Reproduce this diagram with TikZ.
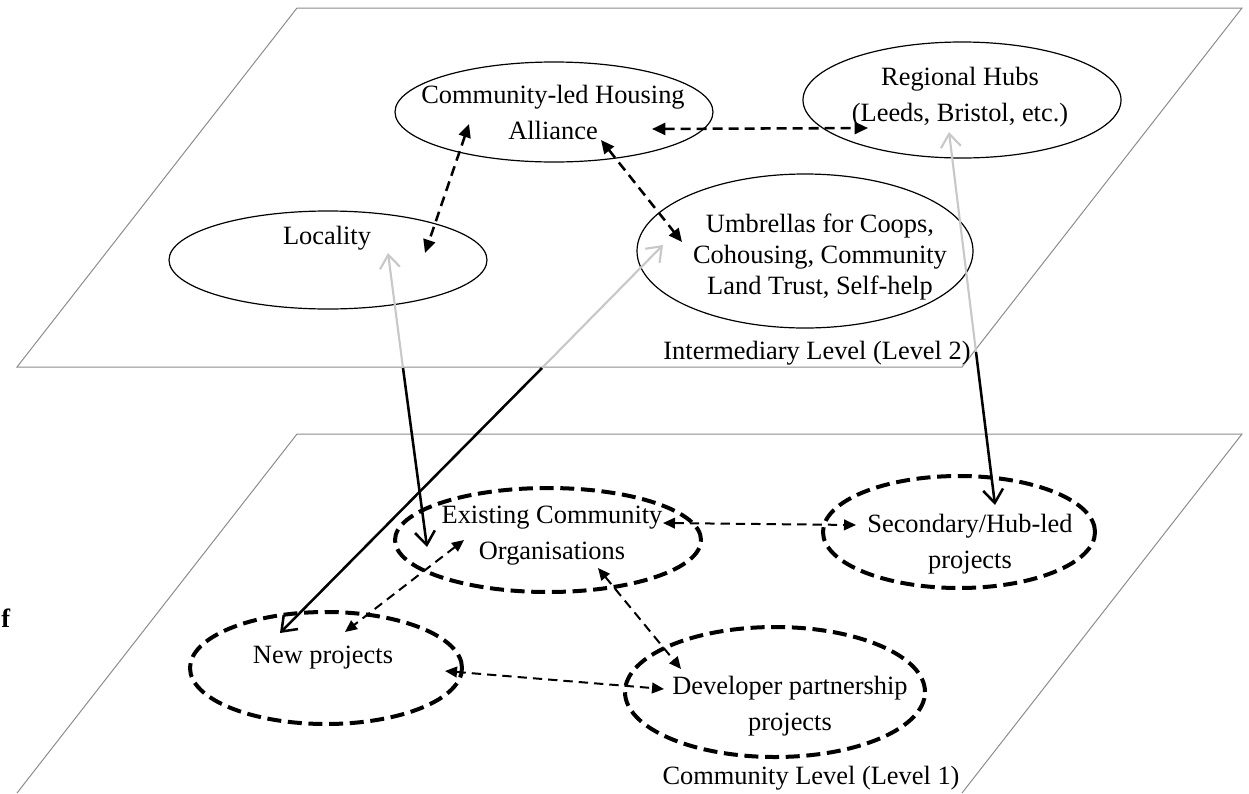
\documentclass[tikz,border=0pt]{standalone}
\usepackage{fontspec}
\setmainfont{Liberation Serif}
\usetikzlibrary{arrows.meta,shapes.geometric}
\definecolor{planegray}{RGB}{140,140,140}
\definecolor{lightg}{RGB}{200,200,200}
\begin{document}
\begin{tikzpicture}[x=0.75pt,y=-0.75pt,
  plane/.style={draw=planegray,line width=0.75pt},
  upper/.style={ellipse,draw,line width=0.9pt,inner sep=0pt},
  lower/.style={ellipse,draw,line width=3pt,dash pattern=on 10.5pt off 5pt,inner sep=0pt},
  lbl/.style={align=center,font=\fontsize{19.8}{27}\selectfont,inner sep=0pt},
  dup/.style={{Triangle[length=10pt,width=9pt]}-{Triangle[length=10pt,width=9pt]},line width=1.9pt,dash pattern=on 7.5pt off 4.5pt},
  dlow/.style={{Triangle[length=9pt,width=8pt]}-{Triangle[length=9pt,width=8pt]},line width=1.5pt,dash pattern=on 7pt off 4.5pt},
  grayarr/.style={-{Straight Barb[length=10pt,width=15pt]},draw=lightg,line width=1.6pt},
  blackarr/.style={-{Straight Barb[length=10pt,width=15pt]},line width=1.9pt}]
\useasboundingbox (0,0) rectangle (1249,793);

% planes
\draw[plane] (297,8) -- (1242,8) -- (962,367) -- (17,367) -- cycle;
\draw[plane] (17,793) -- (297,434) -- (1242,434) -- (962,793);

% upper ellipses
\node[upper,minimum width=238.5pt,minimum height=75pt] (clh) at (554,112) {};
\node[upper,minimum width=238.5pt,minimum height=87pt] (reg) at (962,100) {};
\node[upper,minimum width=238.5pt,minimum height=73.5pt] (loc) at (328,260) {};
\node[upper,minimum width=252pt,minimum height=115.5pt] (umb) at (805,251) {};

% lower ellipses
\node[lower,minimum width=229.5pt,minimum height=78pt] (exi) at (548,540) {};
\node[lower,minimum width=204pt,minimum height=84pt] (new) at (326,668) {};
\node[lower,minimum width=225pt,minimum height=97.5pt] (dev) at (775,692) {};
\node[lower,minimum width=204pt,minimum height=84pt] (sec) at (959,532) {};

% texts
\node[lbl] (clhT) at (553,112) {Community-led Housing\\Alliance};
\node[lbl] (regT) at (960,97) {Regional Hubs\\(Leeds, Bristol, etc.)};
\node[lbl] (locT) at (327,238) {Locality};
\node[lbl,font=\fontsize{19.8}{23.3}\selectfont] (umbT) at (820,257) {Umbrellas for Coops,\\Cohousing, Community\\Land Trust, Self-help};
\node[lbl] (exiT) at (552,536) {Existing Community\\Organisations};
\node[lbl] (newT) at (323,658) {New projects};
\node[lbl] (devT) at (790,706) {Developer partnership\\projects};
\node[lbl] (secT) at (970,544) {Secondary/Hub-led\\projects};
\node[lbl] (lev2) at (817,353) {Intermediary Level (Level 2)};
\node[lbl] (lev1) at (811,778) {Community Level (Level 1)};
\node[lbl,anchor=base west,font=\fontsize{19.8}{27}\selectfont\bfseries] (fT) at (1,627) {f};

% connector end points
\coordinate (a1) at (469,124);
\coordinate (a2) at (425,253);
\coordinate (b1) at (601,140);
\coordinate (b2) at (682,242);
\coordinate (c1) at (652,129);
\coordinate (c2) at (868,128);
\coordinate (d1) at (663,523);
\coordinate (d2) at (856,525);
\coordinate (e1) at (464,540);
\coordinate (e2) at (345,632);
\coordinate (f1) at (598,568);
\coordinate (f2) at (681,669);
\coordinate (g1) at (445,671);
\coordinate (g2) at (664,689);

\coordinate (locTip) at (388,253);
\coordinate (exiTip) at (427,547);
\coordinate (locMid) at (403,368);
\coordinate (umbTip) at (663,245);
\coordinate (newTip) at (280,633);
\coordinate (umbMid) at (542,368);
\coordinate (regTip) at (949,132);
\coordinate (secTip) at (995,505);
\coordinate (regMid) at (976,352);

% dashed links
\draw[dup] (a1) -- (a2);
\draw[dup] (b1) -- (b2);
\draw[dup] (c1) -- (c2);
\draw[dlow] (d1) -- (d2);
\draw[dlow] (e1) -- (e2);
\draw[dlow] (f1) -- (f2);
\draw[dlow] (g1) -- (g2);

% level links
\draw[grayarr] (locMid) -- (locTip);
\draw[blackarr] (locMid) -- (exiTip);
\draw[grayarr] (umbMid) -- (umbTip);
\draw[blackarr] (umbMid) -- (newTip);
\draw[grayarr] (regMid) -- (regTip);
\draw[blackarr] (regMid) -- (secTip);
\end{tikzpicture}
\end{document}
